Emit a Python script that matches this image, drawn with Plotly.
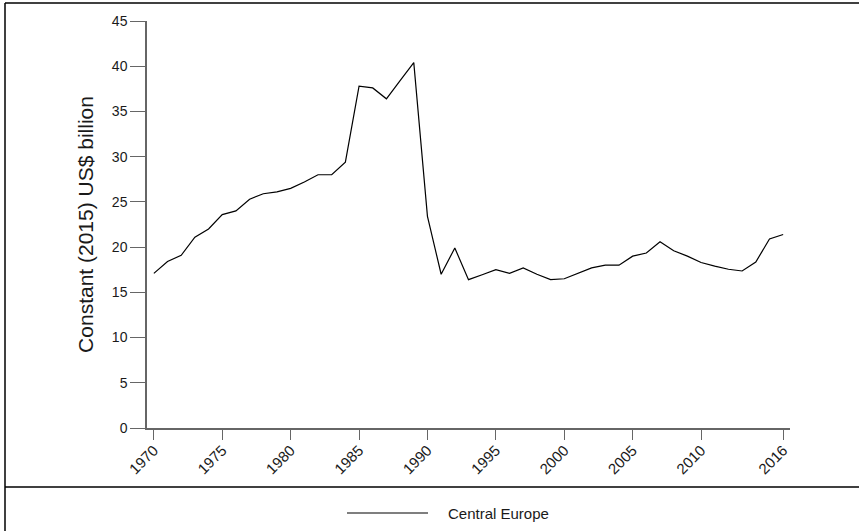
import plotly.graph_objects as go

# Annual series, constant (2015) US$ billion
years = list(range(1970, 2017))
central_europe = [
    17.1, 18.4, 19.1, 21.1, 22.0, 23.6, 24.0, 25.3, 25.9, 26.1,
    26.5, 27.2, 28.0, 28.0, 29.4, 37.8, 37.6, 36.4, 38.4, 40.4,
    23.4, 17.0, 19.9, 16.4, 16.95, 17.5, 17.1, 17.7, 17.0, 16.4,
    16.5, 17.1, 17.7, 18.0, 18.0, 19.0, 19.35, 20.6, 19.6, 19.0,
    18.3, 17.9, 17.55, 17.36, 18.35, 20.9, 21.4,
]
series_name = "Central Europe"
x_ticks = [1970, 1975, 1980, 1985, 1990, 1995, 2000, 2005, 2010, 2016]
y_ticks = [0, 5, 10, 15, 20, 25, 30, 35, 40, 45]

W, H = 859, 531
ML, MR, MT, MB = 147, 69, 21, 103
PW, PH = W - ML - MR, H - MT - MB


def px_x(px):
    return (px - ML) / PW


def px_y(py):
    return (H - MB - py) / PH


FONT = "Liberation Sans, Arial, sans-serif"
AXIS_COL = "#666666"
TEXT_COL = "#1a1a1a"

fig = go.Figure()
fig.add_trace(go.Scatter(
    x=years, y=central_europe, mode="lines", name=series_name,
    line=dict(color="#000000", width=1.2), showlegend=False,
))

fig.update_layout(
    width=W, height=H,
    margin=dict(l=ML, r=MR, t=MT, b=MB, pad=0),
    paper_bgcolor="white", plot_bgcolor="white",
    font=dict(family=FONT, color=TEXT_COL, size=15),
    xaxis=dict(
        range=[1969.5, 2016.5], tickmode="array", tickvals=x_ticks,
        ticktext=[str(t) for t in x_ticks], tickangle=-45,
        ticks="outside", ticklen=10, tickcolor=AXIS_COL, tickwidth=1.2,
        ticklabelstandoff=-4,
        showline=True, linecolor=AXIS_COL, linewidth=1.5,
        showgrid=False, zeroline=False, tickfont=dict(size=15),
    ),
    yaxis=dict(
        range=[0, 45], tickmode="array", tickvals=y_ticks,
        ticks="outside", ticklen=15, tickcolor=AXIS_COL, tickwidth=1.2,
        showline=True, linecolor=AXIS_COL, linewidth=1.5,
        showgrid=False, zeroline=False, tickfont=dict(size=14),
        title=dict(text="Constant (2015) US$ billion",
                   font=dict(size=21, color=TEXT_COL), standoff=13),
    ),
)

frame = dict(type="line", xref="paper", yref="paper",
             line=dict(color="#000000", width=1.5))
# outer frame: top and left edges, plus the rule above the legend
fig.add_shape(**frame, x0=px_x(5), x1=px_x(W), y0=px_y(3), y1=px_y(3))
fig.add_shape(**frame, x0=px_x(5), x1=px_x(5), y0=px_y(3), y1=px_y(H))
fig.add_shape(**frame, x0=px_x(5), x1=px_x(W), y0=px_y(487), y1=px_y(487))

# legend key
fig.add_shape(type="line", xref="paper", yref="paper",
              x0=px_x(347), x1=px_x(428), y0=px_y(513), y1=px_y(513),
              line=dict(color="#000000", width=1.2))
fig.add_annotation(xref="paper", yref="paper", x=px_x(446), y=px_y(513),
                   text=series_name, showarrow=False, xanchor="left",
                   yanchor="middle", font=dict(size=15, color=TEXT_COL))

fig.write_html("out.html")
